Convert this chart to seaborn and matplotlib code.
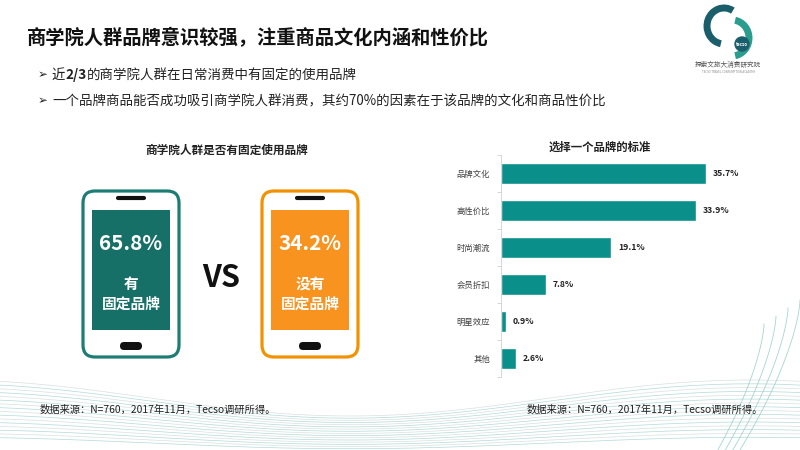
import numpy as np
import pandas as pd
import matplotlib
matplotlib.use("Agg")
import matplotlib.pyplot as plt
import seaborn as sns
from matplotlib.patches import FancyBboxPatch, Arc, Circle

# Data
criteria = ["品牌文化", "高性价比", "时尚潮流", "会员折扣", "明星效应", "其他"]
criteria_share = [35.7, 33.9, 19.1, 7.8, 0.9, 2.6]

brand_labels = ["有\n固定品牌", "没有\n固定品牌"]
brand_share = [65.8, 34.2]

TITLE = "商学院人群品牌意识较强，注重商品文化内涵和性价比"
BULLETS = [["近", "2/3", "的商学院人群在日常消费中有固定的使用品牌"],
           ["一个品牌商品能否成功吸引商学院人群消费，其约70%的因素在于该品牌的文化和商品性价比"]]
SOURCE = "数据来源：N=760，2017年11月，Tecso调研所得。"

TEAL_BAR = "#0a8f8a"
TEAL_DARK = "#177068"
TEAL_EDGE = "#1d7d74"
ORANGE = "#f7931e"
ORANGE_EDGE = "#f39200"

sns.set_theme(style="white")
plt.rcParams['font.family'] = ['Noto Sans CJK SC', 'DejaVu Sans']

fig = plt.figure(figsize=(8, 4.5), dpi=100)
fig.patch.set_facecolor("white")

# background axes in pixel coordinates
bg = fig.add_axes([0, 0, 1, 1])
bg.set_xlim(0, 800)
bg.set_ylim(450, 0)
bg.axis("off")

# decorative wave lines at the bottom
xs = np.linspace(0, 800, 400)
for i in range(16):
    ys = 398 + i * 3.0 + 18 * np.sin((xs - 150) / 800 * 2 * np.pi) * (1 - i / 22)
    bg.plot(xs, ys, color="#8fcbc6" if i % 2 else "#c8d2d2", lw=0.5, alpha=0.7, zorder=0)
t = np.linspace(0, 1, 100)
for i in range(4):
    bg.plot(800 - 60 * t ** 1.5 - i * 12, 300 + i * 8 + 150 * t, color="#8fcbc6", lw=0.6, alpha=0.8, zorder=0)

# logo
bg.add_patch(Arc((724, 26), 34, 36, theta1=100, theta2=300, lw=5, color="#1b5e6b"))
bg.add_patch(Arc((732, 38), 34, 36, theta1=280, theta2=80, lw=5, color="#2a9d8f"))
bg.add_patch(Circle((742, 44), 7, color="#1b5e6b"))
bg.text(742, 44, "tecso", fontsize=3.2, color="white", ha="center", va="center", weight="bold")
bg.text(728, 65, "探索文旅大消费研究院", fontsize=4.8, color="#555555", ha="center", va="center")
bg.text(728, 72, "TECSO TRAVEL CONSUMPTION ACADEMY", fontsize=2, color="#888888", ha="center", va="center")

# title and bullets
bg.text(27, 38, TITLE, fontsize=13.9, weight="bold", color="#111111", va="center")
renderer = fig.canvas.get_renderer()
for row, parts in enumerate(BULLETS):
    y = 75 + row * 26
    bg.text(38, y, "➢", fontsize=8.5, color="#222222", va="center", weight="bold")
    x = 52
    for j, part in enumerate(parts):
        bold = len(parts) > 1 and j == 1
        txt = bg.text(x, y, part, fontsize=9.7, color="#222222", va="center",
                      weight="bold" if bold else "normal")
        bb = txt.get_window_extent(renderer)
        x += bb.width

# left panel: phones
bg.text(227, 150, "商学院人群是否有固定使用品牌", fontsize=8.4, weight="bold",
        color="#222222", ha="center", va="center")
phone_styles = [(83, TEAL_EDGE, TEAL_DARK), (262, ORANGE_EDGE, ORANGE)]
for (x0, edge, screen), share, label in zip(phone_styles, brand_share, brand_labels):
    bg.add_patch(FancyBboxPatch((x0, 191), 96, 166, boxstyle="round,pad=0,rounding_size=12",
                                fc="white", ec=edge, lw=2.3))
    bg.add_patch(FancyBboxPatch((x0 + 9, 210), 78, 120, boxstyle="square,pad=0",
                                fc=screen, ec="none"))
    bg.plot([x0 + 35, x0 + 61], [197.5, 197.5], color="#111111", lw=3, solid_capstyle="round")
    bg.add_patch(FancyBboxPatch((x0 + 37, 342), 22, 8, boxstyle="round,pad=0,rounding_size=4",
                                fc="#111111", ec="none"))
    cx = x0 + 48
    bg.text(cx, 243, f"{share:.1f}%", fontsize=14.8, weight="bold", color="white",
            ha="center", va="center")
    bg.text(cx, 294, label, fontsize=10.6, weight="bold", color="white",
            ha="center", va="center", linespacing=1.25)
bg.text(221, 278, "VS", fontsize=22, weight="heavy", color="#111111", ha="center", va="center")

# right panel: bar chart
bg.text(600, 147, "选择一个品牌的标准", fontsize=8.2, weight="bold", color="#222222",
        ha="center", va="center")
df = pd.DataFrame({"criteria": criteria, "share": criteria_share})
ax = fig.add_axes([501 / 800, 1 - 377 / 450, 230 / 800, 222 / 450])
ax.patch.set_alpha(0)
sns.barplot(data=df, x="share", y="criteria", orient="h", color=TEAL_BAR,
            width=0.55, saturation=1, ax=ax)
ax.set_xlim(0, 40)
ax.set_ylim(5.5, -0.5)
ax.bar_label(ax.containers[0], labels=[f"{v:.1f}%" for v in criteria_share],
             padding=5, fontsize=6.2, weight="bold", color="#222222")
ax.set_xlabel("")
ax.set_ylabel("")
ax.set_xticks([])
ax.set_yticks(np.arange(-0.5, 6.0, 1.0), minor=True)
ax.tick_params(axis="y", which="major", length=0, labelsize=6, labelcolor="#404040", pad=8)
ax.tick_params(axis="y", which="minor", length=3, color="#d0d0d0", width=0.6, left=True)
for side in ["top", "right", "bottom"]:
    ax.spines[side].set_visible(False)
ax.spines["left"].set_color("#d0d0d0")
ax.spines["left"].set_linewidth(0.6)

# footers
bg.text(40, 410, SOURCE, fontsize=7.4, color="#222222", va="center")
bg.text(527, 410, SOURCE, fontsize=7.4, color="#222222", va="center")

fig.savefig("out.png", dpi=100)
